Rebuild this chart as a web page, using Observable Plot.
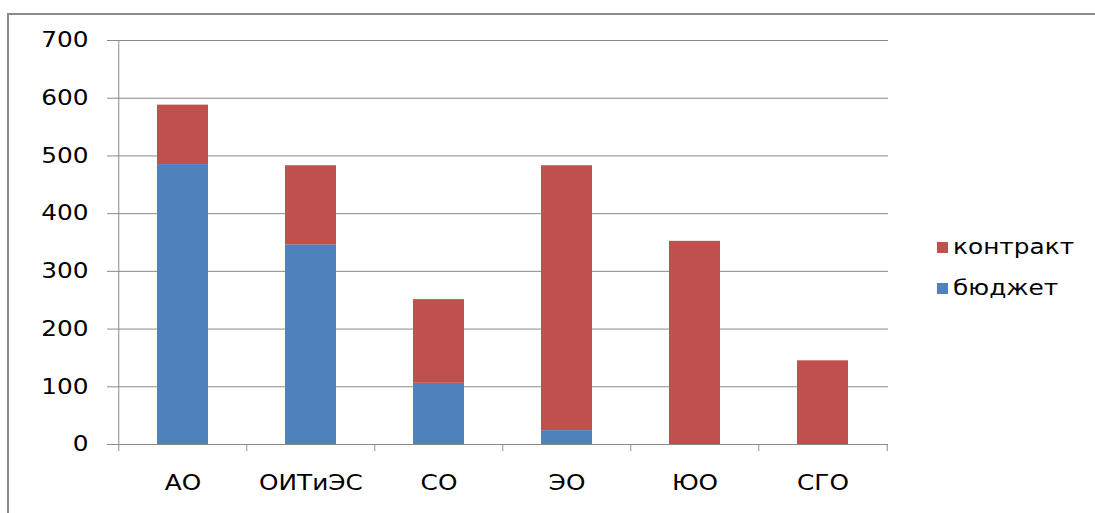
<!DOCTYPE html>
<html><head><meta charset="utf-8">
<script src="https://cdn.jsdelivr.net/npm/d3@7"></script>
<script src="https://cdn.jsdelivr.net/npm/@observablehq/plot@0.6"></script>
<style>
body{margin:0;background:#fff;overflow:hidden}
#wrap{position:relative;width:1095px;height:513px;font-family:"DejaVu Sans",sans-serif;overflow:hidden}
#frame{position:absolute;left:7px;top:13px;right:-10px;bottom:-10px;border-top:2px solid #8a8a8a;border-left:2px solid #8a8a8a}
#chart{position:absolute;left:0;top:0}
.lg{position:absolute;left:937px;height:22px;display:flex;align-items:center;font-size:21px;color:#000;white-space:nowrap}
.lg .sw{width:11px;height:11px;display:inline-block;margin-right:5px}
.lg .t{display:inline-block;transform:scaleX(1.18);transform-origin:left center}
</style>
</head>
<body>
<div id="wrap"><div id="frame"></div><div id="chart"></div><div id="legend"></div></div>
<script>
const categories = ["АО","ОИТиЭС","СО","ЭО","ЮО","СГО"];
const budget = [485,346,106,24,0,0];
const contract = [103,137,145,459,352,145];
const seriesNames = ["бюджет","контракт"];
const seriesColors = ["#4F81BD","#C0504D"];
const yTicks = [0,100,200,300,400,500,600,700];

const rows = [];
categories.forEach((c,i)=>{
  rows.push({cat:c, series:seriesNames[0], value:budget[i]});
  rows.push({cat:c, series:seriesNames[1], value:contract[i]});
});

const W=1095,H=513,mL=117,mR=207,mT=40,mB=69;
const step=(W-mL-mR)/categories.length;
const gray="#8a8a8a";

const plot = Plot.plot({
  width:W, height:H, marginLeft:mL, marginRight:mR, marginTop:mT, marginBottom:mB,
  style:{fontFamily:"DejaVu Sans", fontSize:"21px", color:"#000", background:"transparent", overflow:"visible"},
  x:{domain:categories, paddingInner:0.6, paddingOuter:0.3, label:null},
  y:{domain:[0,700], label:null},
  color:{domain:seriesNames, range:seriesColors},
  marks:[
    Plot.gridY(yTicks,{stroke:gray, strokeOpacity:1}),
    Plot.axisY(yTicks,{tickSize:10, tickPadding:19, stroke:gray, strokeOpacity:1, label:null, fontSize:21, fill:"#000"}),
    Plot.barY(rows,{x:"cat", y:"value", fill:"series"}),
    Plot.ruleY([0],{stroke:gray}),
    Plot.ruleX([categories[0]],{x:d=>d, dx:-step/2, y1:-12, y2:700, stroke:gray}),
    Plot.ruleX(categories.slice(1),{x:d=>d, dx:-step/2, y1:0, y2:-12, stroke:gray}),
    Plot.ruleX([categories[categories.length-1]],{x:d=>d, dx:step/2, y1:0, y2:-12, stroke:gray}),
    Plot.axisX({tickSize:0, tickPadding:31, label:null, fontSize:21, fill:"#000"})
  ]
});
document.getElementById("chart").appendChild(plot);

// horizontally widen glyphs like the reference rendering (scale about the text anchor)
d3.select(plot).selectAll("text").each(function(){
  let x = parseFloat(this.getAttribute("x"));
  const xs = this.getAttribute("x") || "";
  if (!isFinite(x) || /em/.test(xs)) x = 0;
  const t = this.getAttribute("transform") || "";
  this.setAttribute("transform", `${t} translate(${x},0) scale(1.18,1) translate(${-x},0)`);
});

// legend (контракт above бюджет)
const legendTops = [236, 277];
const legend = d3.select("#legend");
[1,0].forEach((k,j)=>{
  const item = legend.append("div").attr("class","lg").style("top", legendTops[j]+"px");
  item.append("span").attr("class","sw").style("background", seriesColors[k]);
  item.append("span").attr("class","t").text(seriesNames[k]);
});
</script>
</body></html>
